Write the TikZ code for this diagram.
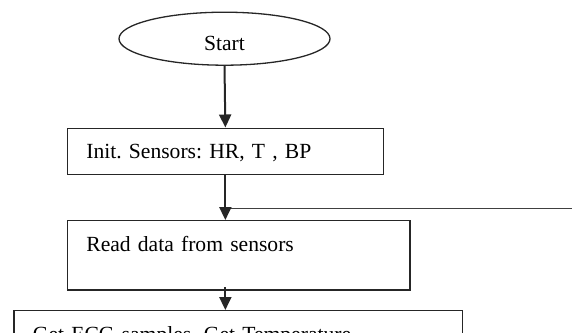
\documentclass[tikz,border=0pt]{standalone}
\usepackage{fontspec}
\setmainfont{Liberation Serif}
\frenchspacing
\usetikzlibrary{shapes.geometric, arrows.meta}

\begin{document}
\begin{tikzpicture}[x=1pt, y=-1pt,
  font=\fontsize{21.6}{26}\selectfont,
  box/.style={draw=black!85, line width=1.3pt, rectangle, anchor=north west,
    inner xsep=19pt, inner ysep=0pt, align=left},
  flow/.style={draw=black!85, line width=2pt, -{Triangle[length=13pt, width=12pt]}},
  back/.style={draw=black!75, line width=1.5pt}]
\useasboundingbox (0,0) rectangle (572,332);
\clip (0,0) rectangle (572,332);
% start
\node[draw=black!85, line width=1.3pt, ellipse, inner sep=0pt,
  minimum width=211pt, minimum height=53pt, text height=24pt, text depth=0pt]
  (start) at (224.5,38.7) {Start};
% steps
\node[box, text width=278pt, minimum height=46.5pt, text height=14.5pt, text depth=1.3pt]
  (init) at (66.7,127.5) {Init. Sensors: HR, T , BP};
\node[box, text width=304.6pt, minimum height=69.3pt, text height=14.7pt, text depth=22.5pt]
  (read) at (66.7,220) {Read data from sensors};
\node[box, text width=410.4pt, minimum height=60pt, text height=14.3pt, text depth=11.7pt]
  (ecg) at (13.3,310) {Get ECG samples, Get Temperature};
% arrows
\coordinate (loop) at (572,208.3);
\draw[back] (loop) -- (loop -| init.south);
\draw[flow] (start.south) -- (init.south |- init.north);
\draw[flow] (init.south) -- (init.south |- read.north);
\draw[flow] ([yshift=3.5pt]init.south |- read.south) -- (init.south |- ecg.north);
\end{tikzpicture}
\end{document}
